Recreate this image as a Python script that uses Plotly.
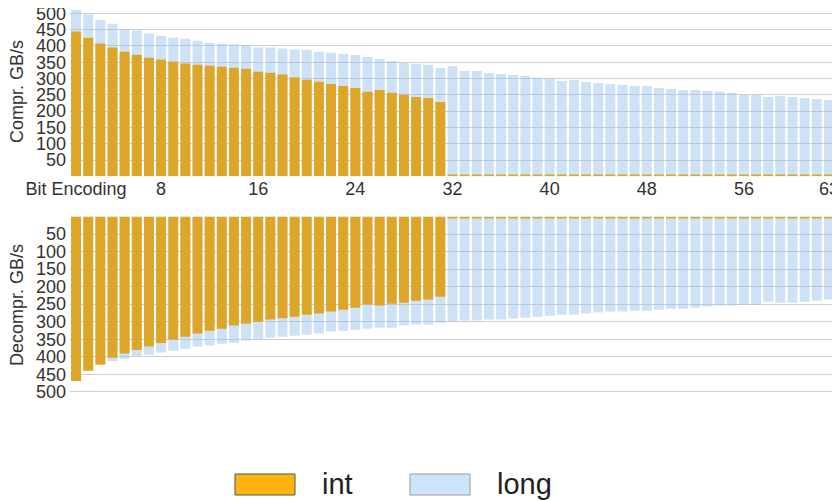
import plotly.graph_objects as go
from plotly.subplots import make_subplots

bits = list(range(1, 64))

comp_int = [444, 425, 407, 395, 382, 373, 364, 358, 352, 346, 342, 339, 336, 333, 330, 321,
            318, 312, 303, 296, 290, 283, 277, 271, 259, 265, 256, 250, 243, 240, 228] + [3] * 32
comp_long = [510, 496, 480, 468, 452, 447, 438, 431, 425, 422, 416, 410, 407, 404, 401, 395,
             395, 392, 389, 388, 382, 379, 375, 372, 366, 360, 354, 348, 345, 342, 332, 338,
             323, 323, 317, 314, 311, 308, 302, 299, 292, 295, 289, 286, 283, 280, 277, 277,
             271, 268, 265, 265, 262, 259, 256, 249, 249, 243, 246, 243, 240, 237, 234]

decomp_int = [469, 440, 423, 403, 391, 381, 371, 361, 351, 343, 334, 326, 320, 311, 306, 300,
              294, 290, 286, 280, 277, 271, 266, 260, 251, 254, 249, 246, 240, 237, 229] + [3] * 32
decomp_long = [450, 432, 418, 412, 406, 398, 394, 388, 383, 377, 371, 368, 363, 360, 354, 350,
               346, 343, 340, 337, 334, 328, 326, 323, 320, 317, 317, 311, 308, 308, 303, 300,
               297, 297, 294, 294, 291, 289, 286, 283, 280, 280, 277, 274, 271, 271, 269, 269,
               266, 263, 263, 260, 257, 254, 254, 252, 252, 243, 246, 246, 243, 240, 237]

tick_vals = [1, 8, 16, 24, 32, 40, 48, 56, 63]
tick_text = ["Bit Encoding", "8", "16", "24", "32", "40", "48", "56", "63"]
y_ticks = [50, 100, 150, 200, 250, 300, 350, 400, 450, 500]

INT_COLOR = "#DEA628"
LONG_COLOR = "rgba(150,195,238,0.48)"
GRID = "#cfcfcf"
FONT = "Liberation Sans, Arial, sans-serif"
TXT = "#333333"

fig = make_subplots(rows=2, cols=1)

fig.add_trace(go.Bar(x=bits, y=comp_long, marker_color=LONG_COLOR, marker_line_width=0,
                     name="long", showlegend=False), row=1, col=1)
fig.add_trace(go.Bar(x=bits, y=comp_int, marker_color=INT_COLOR, marker_line_width=0,
                     name="int", showlegend=False), row=1, col=1)
fig.add_trace(go.Bar(x=bits, y=decomp_long, marker_color=LONG_COLOR, marker_line_width=0,
                     name="long", showlegend=False), row=2, col=1)
fig.add_trace(go.Bar(x=bits, y=decomp_int, marker_color=INT_COLOR, marker_line_width=0,
                     name="int", showlegend=False), row=2, col=1)

# page body has an 8px margin: the figure starts at (8, 8) in the window
OFF = 8
W, H = 840 - OFF, 500 - OFF
L, R = 70 - OFF, 5
top_bot, top_top = 176.3 - OFF, 8.4 - OFF
bot_top, bot_bot = 216.5 - OFF, 395.3 - OFF

fig.update_layout(
    width=W, height=H,
    margin=dict(l=L, r=R, t=0, b=0, autoexpand=False),
    barmode="overlay", bargap=0.18,
    plot_bgcolor="white", paper_bgcolor="white",
    font=dict(family=FONT, size=18, color=TXT),
    xaxis=dict(domain=[0, 1], range=[0.5, 63.5], tickvals=tick_vals, ticktext=tick_text,
               showgrid=False, zeroline=False, showline=False, ticks="", automargin=False,
               tickfont=dict(size=18, color=TXT)),
    xaxis2=dict(domain=[0, 1], range=[0.5, 63.5], showticklabels=False, automargin=False,
                showgrid=False, zeroline=False, showline=False, ticks=""),
    yaxis=dict(domain=[1 - top_bot / H, 1 - top_top / H], range=[0, 515],
               tickvals=y_ticks, showgrid=True, gridcolor=GRID, gridwidth=1,
               zeroline=False, showline=False, ticks="", automargin=False,
               ticklabeloverflow="allow",
               ticklabelstandoff=3, tickfont=dict(size=18, color=TXT)),
    yaxis2=dict(domain=[1 - bot_bot / H, 1 - bot_top / H], range=[510, 0],
                tickvals=y_ticks, showgrid=True, gridcolor=GRID, gridwidth=1,
                zeroline=False, showline=False, ticks="", automargin=False,
                ticklabeloverflow="allow",
                ticklabelstandoff=3, tickfont=dict(size=18, color=TXT)),
)

def px_x(p):
    return (p - OFF - L) / (W - L - R)

def px_y(p):
    return 1 - (p - OFF) / H

# axis titles
for text, yc in [("Compr. GB/s", 92), ("Decompr. GB/s", 305)]:
    fig.add_annotation(xref="paper", yref="paper", x=px_x(17), y=px_y(yc),
                       xanchor="center", yanchor="middle", showarrow=False, textangle=-90,
                       text=text, font=dict(size=18, color=TXT, family=FONT))

legend_items = [("int", "#FFB30F", "#555555", 235, 295, 320),
                ("long", "#CCE4FD", "#999999", 410, 470, 495)]
for label, fill, line, x0, x1, tx in legend_items:
    fig.add_shape(type="rect", xref="paper", yref="paper",
                  x0=px_x(x0), x1=px_x(x1), y0=px_y(495), y1=px_y(474),
                  fillcolor=fill, line=dict(color=line, width=1))
    fig.add_annotation(xref="paper", yref="paper", x=px_x(tx), y=px_y(484),
                       xanchor="left", yanchor="middle", showarrow=False,
                       text=label, font=dict(size=29, color="#222222", family=FONT))

fig.write_html("out.html")
